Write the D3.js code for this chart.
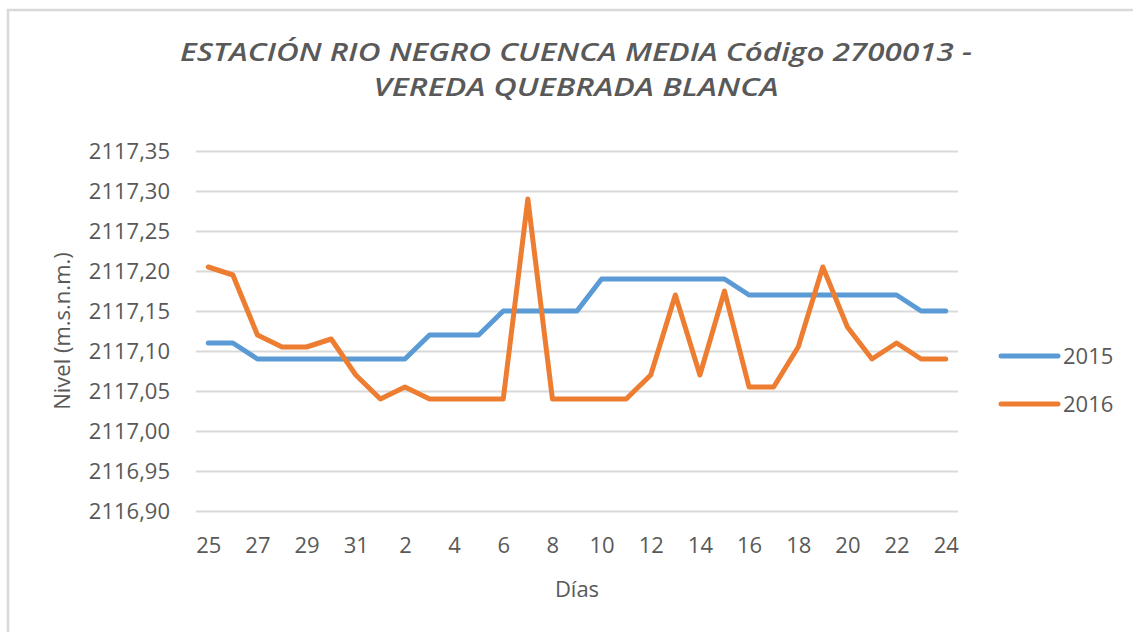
<!DOCTYPE html>
<html>
<head>
<meta charset="utf-8">
<script src="https://cdn.jsdelivr.net/npm/d3@7"></script>
<style>
  html, body { margin: 0; padding: 0; background: #fff; }
  svg { display: block; }
</style>
</head>
<body>
<svg id="chart" width="1133" height="632"></svg>
<script>
const titleLines = ["ESTACIÓN RIO NEGRO CUENCA MEDIA Código 2700013 -", "VEREDA QUEBRADA BLANCA"];
const days = ["25","26","27","28","29","30","31","1","2","3","4","5","6","7","8","9","10","11","12","13","14","15","16","17","18","19","20","21","22","23","24"];
const seriesNames = ["2015", "2016"];
const values2015 = [2117.11, 2117.11, 2117.09, 2117.09, 2117.09, 2117.09, 2117.09, 2117.09, 2117.09,
  2117.12, 2117.12, 2117.12, 2117.15, 2117.15, 2117.15, 2117.15,
  2117.19, 2117.19, 2117.19, 2117.19, 2117.19, 2117.19,
  2117.17, 2117.17, 2117.17, 2117.17, 2117.17, 2117.17, 2117.17, 2117.15, 2117.15];
const values2016 = [2117.205, 2117.195, 2117.12, 2117.105, 2117.105, 2117.115, 2117.07, 2117.04, 2117.055,
  2117.04, 2117.04, 2117.04, 2117.04, 2117.29, 2117.04, 2117.04, 2117.04, 2117.04,
  2117.07, 2117.17, 2117.07, 2117.175, 2117.055, 2117.055, 2117.105, 2117.205,
  2117.13, 2117.09, 2117.11, 2117.09, 2117.09];
const yTicks = [2116.90, 2116.95, 2117.00, 2117.05, 2117.10, 2117.15, 2117.20, 2117.25, 2117.30, 2117.35];
const xTickLabels = ["25","27","29","31","2","4","6","8","10","12","14","16","18","20","22","24"];
const colors = ["#5b9bd5", "#ed7d31"];
const yTitle = "Nivel (m.s.n.m.)";
const xTitle = "Días";

(function () {
const svg = d3.select("#chart");
const font = "'Open Sans', 'Liberation Sans', sans-serif";
const textColor = "#595959";

// outer chart border (partially visible)
svg.append("rect").attr("x", 8).attr("y", 10).attr("width", 1200).attr("height", 700)
  .attr("fill", "none").attr("stroke", "#d9d9d9").attr("stroke-width", 2.5);

const pLeft = 196, pRight = 958, pTop = 151, pBottom = 511;
const keys = days.map((d, i) => i);
const x = d3.scalePoint().domain(keys).range([pLeft, pRight]).padding(0.5);
const y = d3.scaleLinear().domain([2116.90, 2117.35]).range([pBottom, pTop]);

// gridlines + y labels
const yAxis = d3.axisLeft(y).tickValues(yTicks).tickSize(-(pRight - pLeft)).tickPadding(26)
  .tickFormat(d => d3.format(".2f")(d).replace(".", ","));
const gy = svg.append("g").attr("transform", `translate(${pLeft},0)`).call(yAxis);
gy.select(".domain").remove();
gy.selectAll(".tick line").attr("stroke", "#d9d9d9").attr("stroke-width", 2);
gy.selectAll(".tick text").attr("fill", textColor).attr("font-family", font).attr("font-size", 22);

// x axis labels
const labelIdx = keys.filter(i => i % 2 === 0 && xTickLabels.includes(days[i]));
const xAxis = d3.axisBottom(x).tickValues(labelIdx).tickSize(0).tickPadding(26)
  .tickFormat(i => days[i]);
const gx = svg.append("g").attr("transform", `translate(0,${pBottom})`).call(xAxis);
gx.select(".domain").remove();
gx.selectAll(".tick text").attr("fill", textColor).attr("font-family", font).attr("font-size", 22);

// lines
const line = d3.line().x((d, i) => x(i)).y(d => y(d));
[values2015, values2016].forEach((vals, k) => {
  svg.append("path").datum(vals).attr("d", line).attr("fill", "none")
    .attr("stroke", colors[k]).attr("stroke-width", 5)
    .attr("stroke-linejoin", "round").attr("stroke-linecap", "round");
});

// title (two separate lines)
const titleY = [61, 96], titleW = [792, 405];
titleLines.forEach((s, k) => {
  svg.append("text").attr("x", 576).attr("y", titleY[k]).attr("text-anchor", "middle")
    .attr("fill", textColor).attr("font-family", font).attr("font-style", "italic")
    .attr("font-weight", 600).attr("font-size", 25.5)
    .attr("textLength", titleW[k]).attr("lengthAdjust", "spacingAndGlyphs").text(s);
});

// axis titles
svg.append("text").attr("transform", "translate(70,331) rotate(-90)").attr("text-anchor", "middle")
  .attr("fill", textColor).attr("font-family", font).attr("font-size", 22).text(yTitle);
svg.append("text").attr("x", 577).attr("y", 597).attr("text-anchor", "middle")
  .attr("fill", textColor).attr("font-family", font).attr("font-size", 22).text(xTitle);

// legend
const legY = [356, 404];
seriesNames.forEach((name, k) => {
  svg.append("line").attr("x1", 1001).attr("x2", 1058).attr("y1", legY[k]).attr("y2", legY[k])
    .attr("stroke", colors[k]).attr("stroke-width", 5).attr("stroke-linecap", "round");
  svg.append("text").attr("x", 1063).attr("y", legY[k] + 8).attr("fill", textColor)
    .attr("font-family", font).attr("font-size", 22).text(name);
});
})();
</script>
</body>
</html>
